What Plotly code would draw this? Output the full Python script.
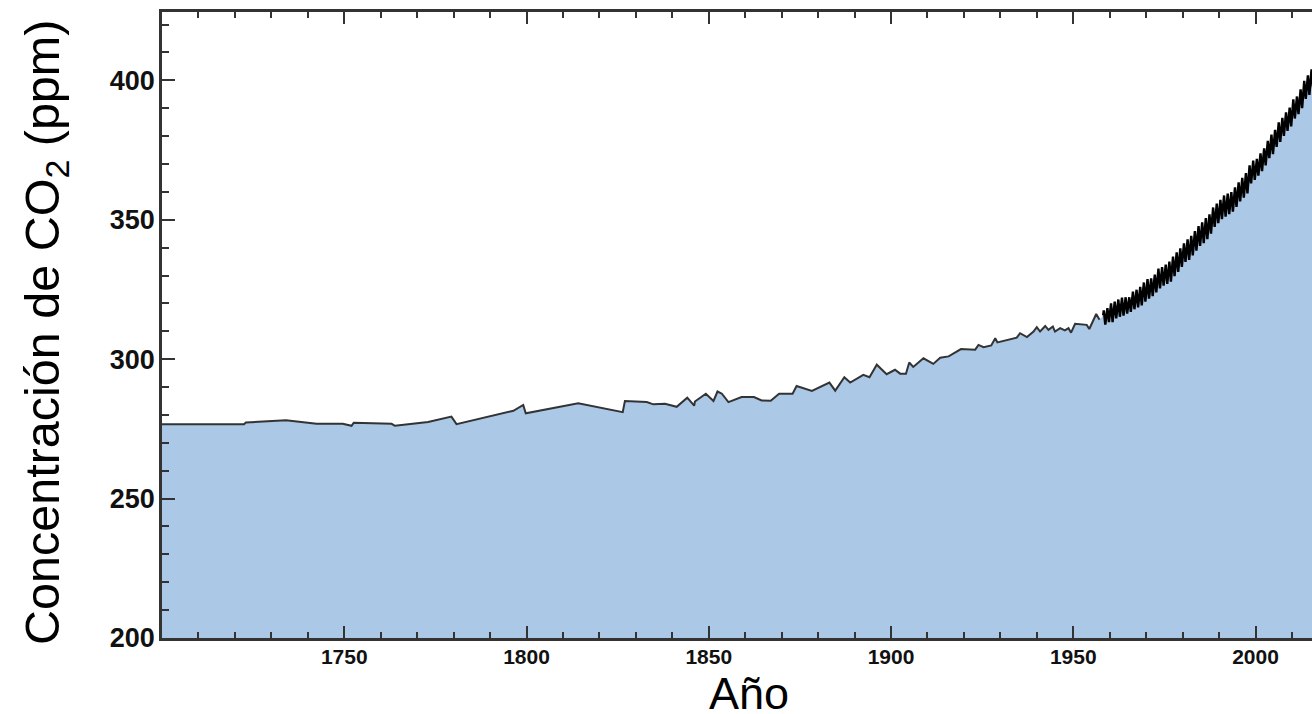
import plotly.graph_objects as go

# Ice-core / early record (year, ppm)
early_years = [1700, 1722.5, 1723, 1734, 1742.4, 1749.6, 1752, 1752.6, 1763, 1763.9,
               1773, 1779.4, 1780.8, 1795.4, 1796.4, 1799.1, 1799.8, 1814.2, 1826.4, 1827,
               1833, 1834.8, 1838, 1841.2, 1844.1, 1846, 1846.2, 1849.2, 1851.3, 1852.4,
               1853.6, 1855.4, 1859, 1862.4, 1864.5, 1867, 1869.3, 1873, 1874.1, 1878.3,
               1883.1, 1884.7, 1887.2, 1888.8, 1892.4, 1894.1, 1896.1, 1898.8, 1901.1, 1902.5,
               1904.1, 1905, 1906.1, 1908.9, 1911.6, 1913.5, 1915.8, 1919.2, 1923.1, 1924,
               1925.4, 1927.5, 1928.6, 1929.2, 1931.8, 1934.5, 1935.4, 1937.3, 1939.1, 1940,
               1940.9, 1942.3, 1943.2, 1944.4, 1945, 1946.4, 1947.7, 1948.7, 1949.4, 1950.5,
               1953.7, 1954.4, 1956.3, 1957.2]
early_ppm = [276.7, 276.7, 277.3, 278.1, 276.8, 276.8, 276.1, 277.2, 276.8, 276.1,
             277.5, 279.4, 276.7, 281.2, 281.5, 283.6, 280.6, 284.2, 281.0, 285.0,
             284.6, 283.8, 284.0, 282.9, 286.2, 283.3, 284.8, 287.6, 285.0, 288.4,
             287.6, 284.6, 286.4, 286.4, 285.2, 285.1, 287.6, 287.6, 290.4, 288.6,
             291.6, 288.7, 293.5, 291.6, 294.4, 293.5, 298.0, 294.6, 296.2, 294.8,
             294.8, 298.8, 297.2, 300.3, 298.3, 300.5, 301.0, 303.6, 303.4, 305.1,
             304.3, 304.9, 307.5, 306.0, 306.9, 307.7, 309.3, 307.9, 309.9, 311.5,
             309.9, 311.9, 310.5, 311.7, 309.9, 311.1, 310.3, 311.1, 309.5, 312.7,
             312.3, 310.8, 316.2, 314.1]

# Mauna Loa record: yearly seasonal maximum (May) and minimum (October), ppm
ml_years = list(range(1958, 2016))
ml_may = [317.5, 318.3, 320.0, 320.6, 321.4, 322.1, 322.2, 322.2, 324.2, 324.9,
          325.9, 327.5, 328.7, 329.0, 330.3, 332.5, 333.0, 333.9, 335.0, 336.8,
          338.3, 339.7, 341.5, 343.0, 344.2, 345.9, 347.7, 349.1, 350.6, 351.9,
          354.4, 355.8, 357.1, 358.7, 359.4, 359.9, 361.6, 363.4, 365.0, 366.7,
          369.5, 371.2, 371.8, 373.8, 375.6, 378.3, 380.5, 382.2, 384.9, 386.5,
          388.5, 390.2, 393.2, 394.2, 396.8, 399.8, 401.8, 403.9]
ml_oct = [312.4, 313.3, 313.3, 314.6, 315.2, 315.6, 316.3, 317.0, 317.9, 318.6,
          319.3, 320.6, 321.7, 322.6, 323.9, 325.4, 326.4, 327.0, 327.8, 329.8,
          331.3, 333.1, 334.9, 335.6, 337.2, 338.9, 340.6, 341.6, 343.0, 345.0,
          347.4, 348.8, 350.2, 351.1, 352.0, 352.9, 354.6, 356.6, 357.9, 359.4,
          363.0, 364.3, 365.8, 367.4, 369.5, 372.1, 373.5, 376.1, 377.9, 380.1,
          381.9, 383.5, 386.3, 387.9, 390.0, 393.3, 394.8, 397.5]

x_tickvals = [1750, 1800, 1850, 1900, 1950, 2000]
y_tickvals = [200, 250, 300, 350, 400]

# interleave seasonal max / min (May ~ year+0.375, October ~ year+0.79)
ml_x, ml_y = [1958.2], [315.7]
for yr, hi, lo in zip(ml_years, ml_may, ml_oct):
    ml_x += [yr + 0.375, yr + 0.79]
    ml_y += [hi, lo]

FILL = "#abc8e6"
AXIS = "#333333"

fig = go.Figure()
fig.add_trace(go.Scatter(x=early_years + ml_x, y=early_ppm + ml_y, mode="none",
                         fill="tozeroy", fillcolor=FILL, hoverinfo="skip",
                         showlegend=False))
fig.add_trace(go.Scatter(x=early_years, y=early_ppm, mode="lines",
                         line=dict(color="#333333", width=2), showlegend=False))
fig.add_trace(go.Scatter(x=ml_x, y=ml_y, mode="lines",
                         line=dict(color="#000000", width=2.4), showlegend=False))

fig.update_layout(
    width=1312, height=714,
    margin=dict(l=162, r=0, t=12, b=76),
    paper_bgcolor="white", plot_bgcolor="white",
    font=dict(family="Liberation Sans, Arial, sans-serif", color="black"),
)
fig.update_xaxes(
    range=[1700, 2015.5], tickmode="array", tickvals=x_tickvals,
    ticks="inside", ticklen=12, tickwidth=2, tickcolor=AXIS,
    minor=dict(dtick=10, tick0=1700, ticks="inside", ticklen=6, tickwidth=2, tickcolor=AXIS),
    showline=True, linecolor=AXIS, linewidth=2.5, mirror="ticks",
    showgrid=False, zeroline=False,
    tickfont=dict(size=21, weight="bold", color="#111111"),
    ticklabelstandoff=-2,
)
fig.update_yaxes(
    range=[200, 424.5], tickmode="array", tickvals=y_tickvals,
    ticks="inside", ticklen=13, tickwidth=2, tickcolor=AXIS,
    minor=dict(dtick=10, tick0=200, ticks="inside", ticklen=7, tickwidth=2, tickcolor=AXIS),
    showline=True, linecolor=AXIS, linewidth=2.5, mirror=False,
    showgrid=False, zeroline=False,
    tickfont=dict(size=27, weight="bold", color="#111111"),
    ticklabelstandoff=-1,
)
fig.add_annotation(text="Concentración de CO<sub>2</sub> (ppm)", textangle=-90,
                   xref="paper", yref="paper", x=(46 - 162) / 1150, y=(638 - 333) / 626,
                   xanchor="center", yanchor="middle", showarrow=False,
                   font=dict(size=48.5, color="black"))
fig.add_annotation(text="Año", xref="paper", yref="paper",
                   x=(749 - 162) / 1150, y=(638 - 693) / 626,
                   xanchor="center", yanchor="middle", showarrow=False,
                   font=dict(size=45, color="black"))

fig.write_html("out.html")
